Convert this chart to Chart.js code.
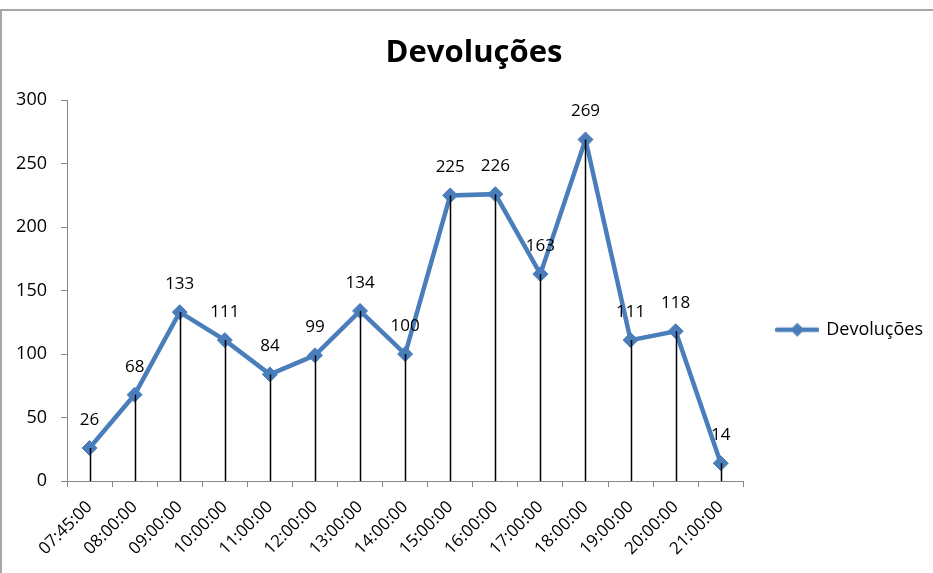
<!DOCTYPE html>
<html>
<head>
<meta charset="utf-8">
<script src="https://cdn.jsdelivr.net/npm/chart.js@4.4.1/dist/chart.umd.min.js"></script>
<style>
  html, body { margin: 0; padding: 0; background: #ffffff; }
  #wrap { position: relative; width: 933px; height: 573px; overflow: hidden; }
  #frame { position: absolute; left: 0; top: 9px; width: 960px; height: 600px;
           border-top: 2px solid #a6a6a6; border-left: 2px solid #a6a6a6; box-sizing: border-box; }
  canvas { position: absolute; left: 0; top: 0; }
</style>
</head>
<body>
<div id="wrap">
  <div id="frame"></div>
  <canvas id="c" width="933" height="573"></canvas>
</div>
<script>
const categories = ["07:45:00","08:00:00","09:00:00","10:00:00","11:00:00","12:00:00","13:00:00","14:00:00","15:00:00","16:00:00","17:00:00","18:00:00","19:00:00","20:00:00","21:00:00"];
const devolucoes = [26, 68, 133, 111, 84, 99, 134, 100, 225, 226, 163, 269, 111, 118, 14];
const seriesName = "Devoluções";
const titleText = "Devoluções";
const yMin = 0, yMax = 300, yStep = 50;

const FONT = "'Open Sans', 'DejaVu Sans', sans-serif";
const BLUE = "#4a7ebb";
const AXIS = "#868686";

// legend marker: line with diamond
const marker = document.createElement('canvas');
marker.width = 44; marker.height = 16;
(function(){
  const g = marker.getContext('2d');
  g.strokeStyle = BLUE; g.lineWidth = 4.5; g.lineCap = 'round';
  g.beginPath(); g.moveTo(2, 8); g.lineTo(42, 8); g.stroke();
  g.fillStyle = BLUE;
  g.beginPath(); g.moveTo(22, 1); g.lineTo(29, 8); g.lineTo(22, 15); g.lineTo(15, 8); g.closePath(); g.fill();
})();

const dropLines = {
  id: 'dropLines',
  afterDatasetsDraw(chart) {
    const meta = chart.getDatasetMeta(0);
    const y0 = chart.scales.y.getPixelForValue(0);
    const ctx = chart.ctx;
    ctx.save();
    ctx.strokeStyle = '#000000';
    ctx.lineWidth = 1.5;
    meta.data.forEach(pt => {
      ctx.beginPath();
      ctx.moveTo(Math.round(pt.x) + 0.5, pt.y);
      ctx.lineTo(Math.round(pt.x) + 0.5, y0);
      ctx.stroke();
    });
    ctx.restore();
  }
};

const dataLabels = {
  id: 'dataLabels',
  afterDraw(chart) {
    const meta = chart.getDatasetMeta(0);
    const ds = chart.data.datasets[0].data;
    const ctx = chart.ctx;
    ctx.save();
    ctx.fillStyle = '#000000';
    ctx.font = "17px " + FONT;
    ctx.textAlign = 'center';
    ctx.textBaseline = 'middle';
    meta.data.forEach((pt, i) => {
      ctx.fillText(String(ds[i]), pt.x, pt.y - 28);
    });
    ctx.restore();
  }
};

new Chart(document.getElementById('c'), {
  type: 'line',
  data: {
    labels: categories,
    datasets: [{
      label: seriesName,
      data: devolucoes,
      borderColor: BLUE,
      backgroundColor: BLUE,
      borderWidth: 4.5,
      pointStyle: 'rectRot',
      pointRadius: 7.5,
      pointHoverRadius: 7.5,
      pointBackgroundColor: BLUE,
      pointBorderColor: BLUE,
      pointBorderWidth: 1,
      tension: 0,
      fill: false
    }]
  },
  options: {
    responsive: false,
    animation: false,
    devicePixelRatio: 1,
    layout: { padding: { top: 0, left: 15, right: 0, bottom: 4 } },
    plugins: {
      title: {
        display: true,
        text: titleText,
        color: '#000000',
        font: { family: FONT, size: 31, weight: 'bold' },
        padding: { top: 35, bottom: 28 }
      },
      legend: {
        display: true,
        position: 'right',
        align: 'center',
        title: { display: true, text: '', padding: { top: 76, bottom: 0 } },
        labels: {
          usePointStyle: true,
          pointStyle: marker,
          pointStyleWidth: 40,
          color: '#000000',
          font: { family: FONT, size: 18 },
          padding: 34
        }
      },
      tooltip: { enabled: false }
    },
    scales: {
      x: {
        offset: true,
        grid: { display: true, offset: true, drawOnChartArea: false, drawTicks: true, tickLength: 6, color: AXIS },
        border: { display: true, color: AXIS, width: 1 },
        ticks: { color: '#000000', font: { family: FONT, size: 17 }, minRotation: 45, maxRotation: 45, padding: 10, autoSkip: false }
      },
      y: {
        min: yMin, max: yMax,
        afterFit(scale) { scale.width = 52; },
        grid: { display: true, drawOnChartArea: false, drawTicks: true, tickLength: 6, color: AXIS },
        border: { display: true, color: AXIS, width: 1 },
        ticks: { stepSize: yStep, color: '#000000', font: { family: FONT, size: 18 }, padding: 14 }
      }
    }
  },
  plugins: [dropLines, dataLabels]
});
</script>
</body>
</html>
